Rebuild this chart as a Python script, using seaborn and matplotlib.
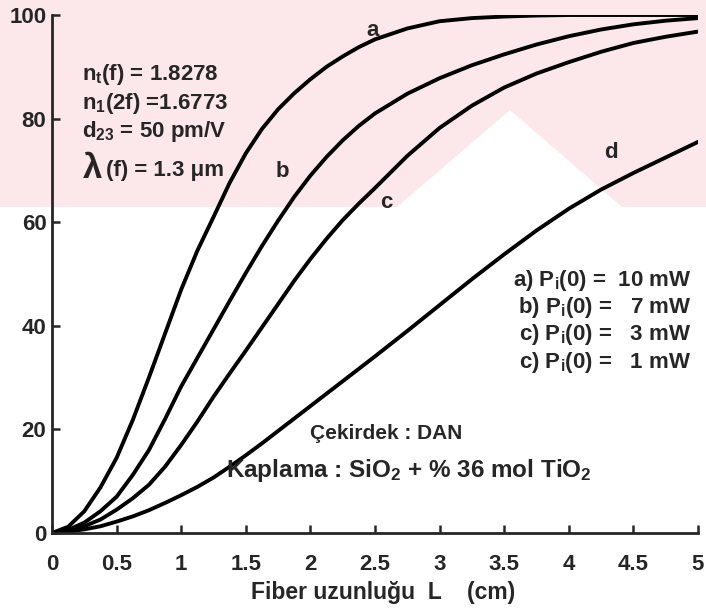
import matplotlib
matplotlib.use("Agg")
import matplotlib.pyplot as plt
import seaborn as sns
import pandas as pd
from matplotlib.patches import Rectangle, Polygon

# ---- data ----
L_cm = [0, 0.125, 0.25, 0.375, 0.5, 0.625, 0.75, 0.875, 1.0, 1.125, 1.25, 1.375, 1.5,
        1.625, 1.75, 1.875, 2.0, 2.125, 2.25, 2.375, 2.5, 2.75, 3.0, 3.25, 3.5, 3.75,
        4.0, 4.25, 4.5, 4.75, 5.0]
curve_a = [0, 1.2, 4.2, 8.8, 14.5, 21.8, 30, 38.5, 47, 54.5, 61, 67.6, 73.3,
           78.0, 81.8, 84.9, 87.6, 90.0, 92.0, 93.8, 95.3, 97.4, 98.8, 99.4, 99.7, 99.9,
           100, 100, 100, 100, 100]
curve_b = [0, 0.6, 2.0, 4.2, 7.0, 11.2, 16, 22, 28.3, 33.8, 39.3, 44.8, 50.2,
           55.4, 60.3, 64.9, 69.0, 72.6, 75.8, 78.6, 81.0, 84.8, 87.8, 90.3, 92.4, 94.3,
           95.9, 97.2, 98.2, 98.9, 99.4]
curve_c = [0, 0.4, 1.3, 2.6, 4.5, 6.7, 9.3, 12.8, 17, 21.5, 26.3, 30.8, 35.2,
           39.7, 44.2, 48.7, 52.9, 56.8, 60.4, 63.6, 66.6, 72.8, 78.2, 82.5, 86.0, 88.7,
           90.9, 92.9, 94.6, 95.8, 96.8]
curve_d = [0, 0.3, 0.7, 1.3, 2.2, 3.2, 4.4, 5.8, 7.3, 8.9, 10.7, 12.8, 15.0,
           17.3, 19.7, 22.1, 24.5, 26.9, 29.3, 31.7, 34.1, 39.0, 44.0, 49.0, 53.8, 58.4,
           62.6, 66.3, 69.5, 72.5, 75.5]
curve_names = ["a", "b", "c", "d"]
x_ticks = [0, 0.5, 1, 1.5, 2, 2.5, 3, 3.5, 4, 4.5, 5]
x_tick_labels = ["0", "0.5", "1", "1.5", "2", "2.5", "3", "3.5", "4", "4.5", "5"]
y_ticks = [0, 20, 40, 60, 80, 100]
legend_lines = ["a) P$_{\\mathregular{i}}$(0) =  10 mW",
                "b) P$_{\\mathregular{i}}$(0) =   7 mW",
                "c) P$_{\\mathregular{i}}$(0) =   3 mW",
                "c) P$_{\\mathregular{i}}$(0) =   1 mW"]

rows = []
for name, vals in zip(curve_names, [curve_a, curve_b, curve_c, curve_d]):
    for x, y in zip(L_cm, vals):
        rows.append({"L": x, "val": y, "curve": name})
df = pd.DataFrame(rows)

sns.set_style("ticks")
plt.rcParams["font.family"] = ["Liberation Sans", "DejaVu Sans"]
plt.rcParams["font.weight"] = "bold"
plt.rcParams["mathtext.fontset"] = "custom"
plt.rcParams["mathtext.rm"] = "Liberation Sans:bold"
plt.rcParams["mathtext.it"] = "Liberation Sans:bold"
plt.rcParams["mathtext.bf"] = "Liberation Sans:bold"

W, H = 706, 611
fig = plt.figure(figsize=(W / 100, H / 100), dpi=100)

# faint watermark band at the top of the scan
pink = "#fce8eb"
fig.patches.append(Rectangle((0, 1 - 207 / H), 1, 207 / H, transform=fig.transFigure,
                             facecolor=pink, edgecolor="none", zorder=-10))
def fp(px, py):
    return (px / W, 1 - py / H)
fig.patches.append(Polygon([fp(397, 207), fp(510, 110), fp(622, 207)], closed=True,
                           transform=fig.transFigure, facecolor="white",
                           edgecolor="none", zorder=-9))

ax = fig.add_axes([52 / W, 1 - 533 / H, (698 - 52) / W, (533 - 15) / H])
ax.patch.set_alpha(0)

sns.lineplot(data=df, x="L", y="val", hue="curve", palette=["black"] * 4,
             legend=False, linewidth=2.8, ax=ax, estimator=None, sort=True)

ax.set_xlim(0, 5)
ax.set_ylim(0, 100)
ax.set_xticks(x_ticks)
ax.set_xticklabels(x_tick_labels)
ax.set_yticks(y_ticks)
ax.set_yticklabels([str(v) for v in y_ticks])
for s in ["top", "right"]:
    ax.spines[s].set_visible(False)
for s in ["left", "bottom"]:
    ax.spines[s].set_linewidth(2.0)
ax.tick_params(direction="in", length=6, width=1.8, labelsize=16)
ax.tick_params(axis="x", pad=15)
ax.tick_params(axis="y", pad=4)
for lab in ax.get_xticklabels() + ax.get_yticklabels():
    lab.set_fontweight("bold")
ax.set_xlabel("Fiber uzunluğu  L    (cm)", fontsize=16.5, fontweight="bold")
ax.set_ylabel("")
ax.xaxis.set_label_coords(0.513, -0.093)

# curve labels
fs = 16
ax.text(2.48, 97, "a", fontsize=fs, fontweight="bold", ha="center", va="center")
ax.text(1.78, 69.7, "b", fontsize=fs, fontweight="bold", ha="center", va="center")
ax.text(2.59, 63.8, "c", fontsize=fs, fontweight="bold", ha="center", va="center")
ax.text(4.33, 73.4, "d", fontsize=fs, fontweight="bold", ha="center", va="center")

# parameter block
ax.text(0.23, 88.5, "n$_{\\mathregular{t}}$(f) = 1.8278", fontsize=fs, fontweight="bold", va="center")
ax.text(0.23, 83.0, "n$_{\\mathregular{1}}$(2f) =1.6773", fontsize=fs, fontweight="bold", va="center")
ax.text(0.23, 77.5, "d$_{\\mathregular{23}}$ = 50 pm/V", fontsize=fs, fontweight="bold", va="center")
ax.text(0.24, 70.3, "λ", fontsize=25, fontweight="bold", va="center")
ax.text(0.42, 70.0, "(f) = 1.3 μm", fontsize=fs, fontweight="bold", va="center")

# legend block
for i, line in enumerate(legend_lines):
    ax.text(4.95, 48.8 - i * 5.27, line, fontsize=fs, fontweight="bold", ha="right", va="center")

ax.text(2.0, 19.3, "Çekirdek : DAN", fontsize=15, fontweight="bold", va="center")
ax.text(1.35, 12.0, "Kaplama : SiO$_{\\mathregular{2}}$ + % 36 mol TiO$_{\\mathregular{2}}$",
        fontsize=17.5, fontweight="bold", va="center")

fig.savefig("out.png", dpi=100)
